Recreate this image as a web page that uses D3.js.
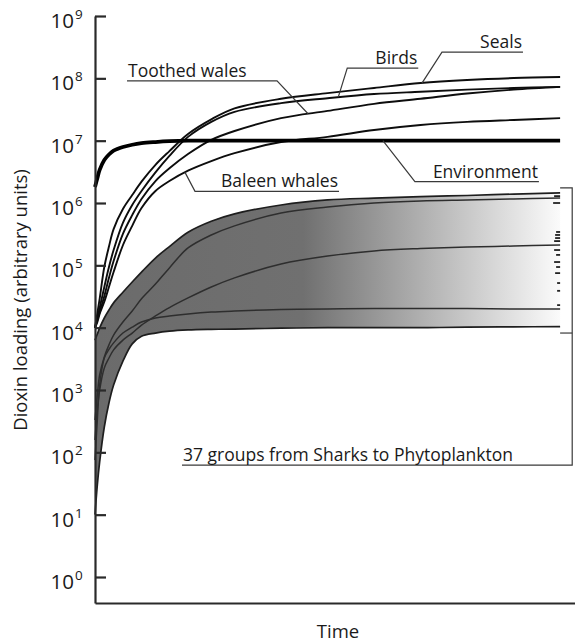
<!DOCTYPE html>
<meta charset="utf-8">
<title>Dioxin loading</title>
<style>
  body { margin: 0; background: #fff; }
  text { font-family: "Open Sans", "Noto Sans", sans-serif; fill: #1a1a1a; }
</style>
<body>
<script src="https://cdnjs.cloudflare.com/ajax/libs/d3/7.8.5/d3.min.js"></script>
<script>

// time steps (arbitrary units) shared by every series
const timeSteps = [0, 0.5, 1, 2, 3, 4, 6, 8, 10, 13, 16, 20, 25, 30, 40, 50, 60, 70, 80, 90, 100];

// marine mammals, birds and the environment
const seals = [1e4, 1.7e4, 2.9e4, 9.4e4, 2.0e5, 3.8e5, 8.0e5, 1.34e6, 2.2e6, 4.1e6, 6.8e6, 1.28e7, 2.2e7, 3.3e7, 4.7e7, 5.8e7, 7.0e7, 8.4e7, 9.4e7, 1.01e8, 1.05e8];
const birds = [1e4, 1.43e4, 2.07e4, 4.5e4, 9.4e4, 1.76e5, 4.8e5, 9.3e5, 1.56e6, 3.1e6, 5.7e6, 1.15e7, 2.0e7, 2.9e7, 4.0e7, 4.8e7, 5.6e7, 6.1e7, 6.6e7, 7.0e7, 7.3e7];
const toothed = [1e4, 1.33e4, 1.78e4, 3.2e4, 6.3e4, 1.17e5, 3.2e5, 6.4e5, 1.16e6, 2.25e6, 3.6e6, 6.1e6, 1.03e7, 1.43e7, 2.3e7, 3.0e7, 3.9e7, 4.7e7, 5.7e7, 6.6e7, 7.3e7];
const baleen = [1e4, 1.23e4, 1.66e4, 2.6e4, 4.5e4, 7.8e4, 2.1e5, 4.3e5, 8.3e5, 1.56e6, 2.25e6, 3.3e6, 4.7e6, 6.3e6, 9.5e6, 1.15e7, 1.48e7, 1.78e7, 2.0e7, 2.15e7, 2.3e7];
const environment = [1.8e6, 2.5e6, 3.4e6, 4.9e6, 6.0e6, 6.9e6, 7.9e6, 8.6e6, 9.1e6, 9.5e6, 9.8e6, 1e7, 1e7, 1e7, 1e7, 1e7, 1e7, 1e7, 1e7, 1e7, 1e7];

// envelope of the 37 groups, and a few groups drawn inside it
const bandUpper = [6.3e3, 7.9e3, 9.9e3, 1.43e4, 1.92e4, 2.5e4, 3.7e4, 5.4e4, 7.8e4, 1.31e5, 2.0e5, 3.4e5, 5.1e5, 6.7e5, 9.3e5, 1.12e6, 1.2e6, 1.27e6, 1.32e6, 1.39e6, 1.45e6];
const bandLower = [10, 30, 70, 255, 620, 1200, 2900, 5500, 7300, 8200, 8800, 9200, 9400, 9500, 9800, 1.0e4, 1.0e4, 1.0e4, 1.02e4, 1.03e4, 1.04e4];
const groupA = [330, 830, 1740, 3400, 5300, 7600, 1.23e4, 1.85e4, 2.9e4, 5.0e4, 9.1e4, 1.9e5, 3.07e5, 4.3e5, 6.9e5, 8.6e5, 1.0e6, 1.08e6, 1.12e6, 1.16e6, 1.2e6];
const groupB = [158, 480, 1000, 2250, 3260, 4400, 6300, 8200, 1.1e4, 1.54e4, 2.1e4, 3.0e4, 4.5e4, 6.3e4, 1.05e5, 1.41e5, 1.7e5, 1.86e5, 1.97e5, 2.04e5, 2.12e5];
const groupC = [75, 330, 1200, 3260, 4500, 5700, 8200, 1.02e4, 1.23e4, 1.43e4, 1.54e4, 1.66e4, 1.78e4, 1.85e4, 1.95e4, 1.99e4, 2.03e4, 2.03e4, 2.03e4, 1.99e4, 1.99e4];

// final values of the other groups (little marks at the right), with mark length
const groupEnds = [1.29e6, 1.0e6, 3.43e5, 3.07e5, 2.74e5, 2.45e5, 1.76e5, 1.47e5, 1.13e5, 9.4e4, 7.5e4, 5.2e4, 3.9e4, 2.3e4];
const groupEndLen = [6, 7, 4, 5, 5, 6, 6, 4, 6, 4, 5, 3, 3, 3];

const yTicks = [1, 10, 100, 1e3, 1e4, 1e5, 1e6, 1e7, 1e8, 1e9];

var width = 575,
  height = 642;

var svg = d3.select("body").append("svg")
    .attr("width", width)
    .attr("height", height);

var x = d3.scaleLinear().domain([0, 103.2]).range([95, 575]);
var y = d3.scaleLog().domain([Math.pow(10, -0.417), 1e9]).range([603, 16]);

var tEnd = timeSteps[timeSteps.length - 1];

// gradient for the band: grey on the left, fading to white at the right
var grad = svg.append("defs").append("linearGradient")
    .attr("id", "fade")
    .attr("gradientUnits", "userSpaceOnUse")
    .attr("x1", x(0)).attr("x2", x(tEnd) + 8)
    .attr("y1", 0).attr("y2", 0);
grad.append("stop").attr("offset", 0).attr("stop-color", "#6b6b6b");
grad.append("stop").attr("offset", 0.44).attr("stop-color", "#707070");
grad.append("stop").attr("offset", 1).attr("stop-color", "#ffffff");

const curve = d3.curveCatmullRom.alpha(0.5);

const line = d3.line()
  .x((d, i) => x(timeSteps[i]))
  .y(d => y(d))
  .curve(curve);

const area = d3.area()
  .x((d, i) => x(timeSteps[i]))
  .y0((d, i) => y(bandLower[i]))
  .y1(d => y(d))
  .curve(curve);

svg.append("path")
  .attr("d", area(bandUpper))
  .style("fill", "url(#fade)");

[groupA, groupB, groupC].forEach(g => {
  svg.append("path")
    .attr("d", line(g))
    .style("fill", "none")
    .style("stroke", "#2e2e2e")
    .style("stroke-width", 1.5);
});

[bandUpper, bandLower].forEach(g => {
  svg.append("path")
    .attr("d", line(g))
    .style("fill", "none")
    .style("stroke", "#1e1e1e")
    .style("stroke-width", 1.7);
});

svg.selectAll("line.end")
    .data(groupEnds)
  .enter().append("line")
    .attr("class", "end")
    .attr("x1", (d, i) => x(tEnd) - groupEndLen[i])
    .attr("x2", x(tEnd))
    .attr("y1", d => y(d))
    .attr("y2", d => y(d))
    .style("stroke", "#222")
    .style("stroke-width", 1.8);

[seals, birds, toothed, baleen].forEach(s => {
  svg.append("path")
    .attr("d", line(s))
    .style("fill", "none")
    .style("stroke", "#0d0d0d")
    .style("stroke-width", 1.9);
});

svg.append("path")
  .attr("d", line(environment))
  .style("fill", "none")
  .style("stroke", "#000")
  .style("stroke-width", 3.8);

// labels with underline and a pointer to their curve
const annotations = [
  { text: "Toothed wales", t: 45.8, v: 2.7e7, dx: -31, dy: -33, len: -150 },
  { text: "Birds", t: 52.3, v: 5.0e7, dx: 9, dy: -29, len: 71 },
  { text: "Seals", t: 70.3, v: 8.4e7, dx: 20, dy: -31, len: 81 },
  { text: "Environment", t: 61.9, v: 1e7, dx: 32, dy: 41, len: 124 },
  { text: "Baleen whales", t: 19.35, v: 3.1e6, dx: 10, dy: 19, len: 144 }
];

annotations.forEach(a => {
  var tx = x(a.t), ty = y(a.v);
  var ex = tx + a.dx, ey = ty + a.dy;
  svg.append("polyline")
    .attr("points", [[tx, ty], [ex, ey], [ex + a.len, ey]].map(p => p.join(",")).join(" "))
    .style("fill", "none")
    .style("stroke", "#3a3a3a")
    .style("stroke-width", 1.2);
  svg.append("text")
    .attr("x", a.len < 0 ? ex + a.len + 1 : ex + a.len - 1)
    .attr("y", ey - 4)
    .attr("text-anchor", a.len < 0 ? "start" : "end")
    .style("font-size", "17.5px")
    .text(a.text);
});

// bracket for the 37 groups
var bx = x(102.6), labelY = y(62.5);
svg.append("polyline")
  .attr("points", [[x(tEnd), y(1.75e6)], [bx, y(1.75e6)], [bx, labelY], [x(18.7), labelY]].map(p => p.join(",")).join(" "))
  .style("fill", "none")
  .style("stroke", "#3a3a3a")
  .style("stroke-width", 1.2);
svg.append("line")
  .attr("x1", x(tEnd)).attr("x2", bx)
  .attr("y1", y(8.2e3)).attr("y2", y(8.2e3))
  .style("stroke", "#3a3a3a")
  .style("stroke-width", 1.2);
svg.append("text")
  .attr("x", x(18.7) + 1)
  .attr("y", labelY - 4)
  .style("font-size", "17.5px")
  .text("37 groups from Sharks to Phytoplankton");

// axes
var yAxis = svg.append("g")
    .attr("transform", "translate(95,0)")
    .call(d3.axisRight(y).tickValues(yTicks).tickFormat("").tickSize(11).tickSizeOuter(0));
var xAxis = svg.append("g")
    .attr("transform", "translate(0,603)")
    .call(d3.axisBottom(x).tickValues([]).tickSizeOuter(0));
[yAxis, xAxis].forEach(g => {
  g.selectAll("path, line").style("stroke", "#2a2a2a").style("stroke-width", 2.2);
});

yTicks.forEach(v => {
  var ty = y(v);
  svg.append("text")
    .attr("x", 74)
    .attr("y", ty + 12)
    .attr("text-anchor", "end")
    .style("font-size", "20.5px")
    .text("10");
  svg.append("text")
    .attr("x", 75)
    .attr("y", ty + 3)
    .style("font-size", "13.5px")
    .text(Math.round(Math.log10(v)));
});

svg.append("text")
  .attr("transform", "translate(27,300) rotate(-90)")
  .attr("text-anchor", "middle")
  .style("font-size", "18.5px")
  .text("Dioxin loading (arbitrary units)");

svg.append("text")
  .attr("x", 338)
  .attr("y", 638)
  .attr("text-anchor", "middle")
  .style("font-size", "18.5px")
  .text("Time");

</script>
